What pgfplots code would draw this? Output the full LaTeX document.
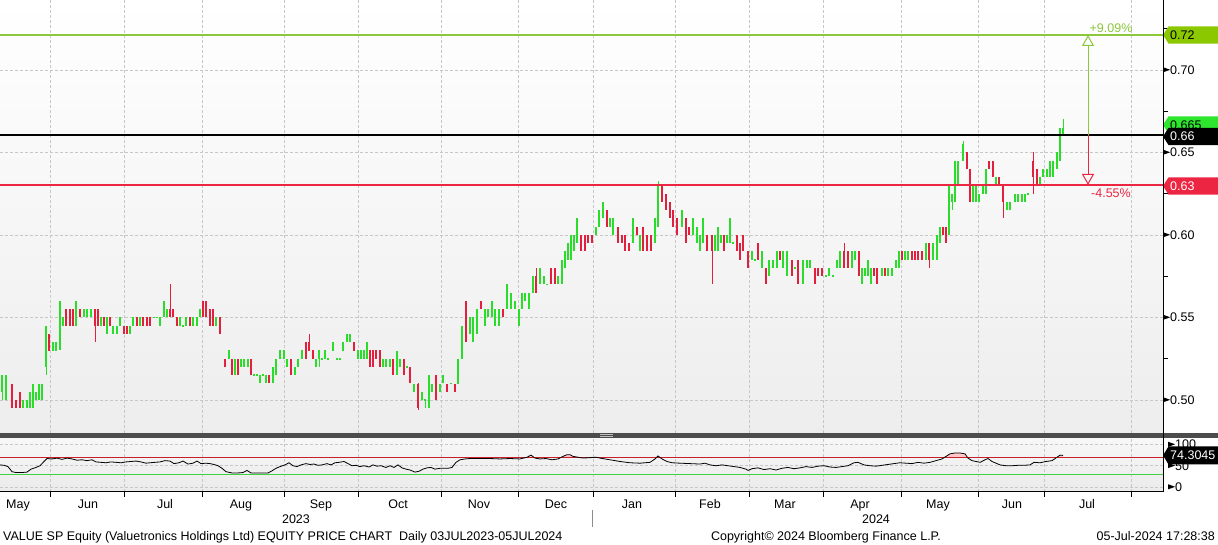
\documentclass[border=0pt]{standalone}
\usepackage{pgfplots}
\pgfplotsset{compat=1.18}
\usepackage{pgfplotstable}
\usepackage{fontspec}
\setmainfont{Liberation Sans}
\usetikzlibrary{arrows.meta}

\definecolor{upg}{HTML}{2BDD2B}
\definecolor{dnr}{HTML}{E2203E}
\definecolor{limeg}{HTML}{8CC83C}
\definecolor{limebox}{HTML}{8CC800}
\definecolor{redl}{HTML}{EC2642}
\definecolor{brightg}{HTML}{2EE62E}
\definecolor{rsig}{HTML}{44D044}
\definecolor{rsir}{HTML}{C81E28}
\newcommand{\lbl}{\fontsize{12.5}{14}\selectfont}

% x = horizontal position, o = open, c = close, h/l = extra wick (0 / 1 = none)
\pgfplotstableread{
x o c h l
2 0.505 0.515 0 0.50
6 0.50 0.515 0 1
12 0.51 0.495 0 1
16 0.50 0.495 0 1
20 0.505 0.495 0 1
23 0.495 0.50 0 1
27 0.495 0.50 0 1
30 0.495 0.505 0 1
33 0.495 0.51 0 1
36 0.50 0.505 0 1
39 0.50 0.51 0 1
42 0.50 0.51 0 1
46 0.52 0.545 0 0.515
49 0.54 0.53 0 1
53 0.53 0.535 0 1
56 0.53 0.535 0 1
60 0.53 0.56 0 1
63 0.545 0.55 0 1
66 0.555 0.545 0 1
70 0.555 0.545 0 1
73 0.555 0.545 0 1
76 0.545 0.56 0 1
80 0.555 0.55 0 1
84 0.55 0.555 0 1
87 0.55 0.555 0 1
91 0.55 0.555 0 1
95 0.555 0.545 0 0.535
98 0.555 0.545 0 1
101 0.545 0.55 0 1
104 0.55 0.545 0 1
107 0.54 0.55 0 1
110 0.55 0.545 0 1
113 0.54 0.545 0 1
117 0.54 0.545 0 1
120 0.545 0.55 0 1
124 0.545 0.54 0 1
127 0.545 0.54 0 1
130 0.54 0.545 0 1
133 0.545 0.55 0 1
137 0.55 0.545 0 1
140 0.545 0.55 0 1
143 0.55 0.545 0 1
147 0.55 0.545 0 1
150 0.55 0.545 0 1
154 0.55 0.55 0 1
157 0.55 0.55 0 1
160 0.545 0.55 0 1
164 0.55 0.56 0 1
167 0.55 0.555 0 1
170 0.555 0.55 0.57 1
173 0.555 0.55 0 1
177 0.55 0.545 0 1
180 0.545 0.55 0 1
183 0.545 0.545 0 1
186 0.545 0.55 0 1
190 0.55 0.545 0 1
193 0.545 0.55 0 1
197 0.545 0.55 0 1
200 0.55 0.555 0 1
203 0.56 0.55 0 1
206 0.56 0.55 0 1
210 0.555 0.545 0 1
213 0.555 0.545 0 1
216 0.545 0.55 0 1
220 0.55 0.54 0 1
225 0.525 0.52 0 1
229 0.525 0.53 0 1
232 0.525 0.515 0 1
235 0.515 0.525 0 1
238 0.525 0.515 0 1
241 0.52 0.525 0 1
244 0.52 0.525 0 1
248 0.52 0.525 0 1
251 0.525 0.515 0 1
254 0.515 0.515 0 1
257 0.515 0.515 0 1
260 0.51 0.515 0 1
263 0.515 0.515 0 1
266 0.51 0.515 0 1
269 0.515 0.51 0 1
273 0.51 0.52 0 1
276 0.515 0.525 0 1
280 0.525 0.53 0 1
284 0.525 0.53 0 1
287 0.52 0.525 0 1
291 0.525 0.515 0 1
295 0.515 0.52 0 1
298 0.52 0.525 0 1
302 0.525 0.53 0 1
306 0.535 0.525 0 1
309 0.535 0.53 0.54 1
313 0.53 0.525 0 1
316 0.52 0.525 0 1
319 0.525 0.53 0 0.52
322 0.525 0.525 0 1
325 0.525 0.53 0 1
328 0.525 0.525 0 1
333 0.53 0.535 0 1
337 0.525 0.525 0 1
340 0.525 0.525 0 1
343 0.53 0.535 0 1
347 0.535 0.54 0 1
350 0.535 0.54 0 1
354 0.535 0.53 0 1
358 0.525 0.53 0 1
361 0.525 0.53 0 1
364 0.525 0.53 0 1
367 0.525 0.535 0 1
370 0.53 0.52 0 1
373 0.53 0.52 0 1
376 0.53 0.525 0 1
380 0.53 0.52 0 1
383 0.52 0.525 0 1
386 0.52 0.525 0 1
390 0.52 0.525 0 1
393 0.525 0.515 0 1
397 0.515 0.53 0 1
400 0.52 0.525 0 1
404 0.525 0.515 0 1
407 0.52 0.52 0 1
410 0.52 0.51 0 1
414 0.505 0.51 0 1
418 0.51 0.495 0 0.494
422 0.50 0.505 0 1
425 0.50 0.50 0 0.495
429 0.495 0.515 0 1
432 0.505 0.51 0 1
436 0.515 0.50 0 1
440 0.505 0.51 0 1
443 0.51 0.515 0 1
447 0.51 0.505 0 1
451 0.51 0.51 0 1
455 0.51 0.505 0 1
458 0.51 0.525 0 1
462 0.525 0.545 0 1
466 0.56 0.535 0 1
470 0.54 0.55 0 1
473 0.535 0.55 0 1
477 0.54 0.555 0 1
481 0.56 0.555 0 1
485 0.545 0.555 0 1
488 0.55 0.555 0 1
492 0.55 0.56 0 1
495 0.545 0.555 0 1
499 0.545 0.555 0 1
503 0.555 0.55 0 1
507 0.555 0.57 0 1
511 0.555 0.565 0 1
515 0.555 0.56 0 1
519 0.545 0.555 0 1
522 0.555 0.565 0 1
525 0.56 0.565 0 1
529 0.555 0.565 0 1
533 0.565 0.575 0 1
536 0.575 0.565 0.58 1
540 0.57 0.58 0 1
544 0.57 0.575 0 1
547 0.57 0.57 0 1
551 0.58 0.57 0 1
555 0.58 0.57 0 1
558 0.57 0.575 0 1
562 0.57 0.585 0 1
565 0.58 0.59 0 1
568 0.585 0.595 0 1
571 0.585 0.60 0 1
574 0.59 0.60 0 1
577 0.595 0.61 0 1
581 0.60 0.59 0 1
585 0.60 0.59 0 1
588 0.60 0.595 0 1
592 0.60 0.595 0 1
596 0.60 0.605 0 1
599 0.605 0.615 0 1
603 0.61 0.62 0 1
607 0.615 0.605 0 1
610 0.605 0.61 0 1
613 0.60 0.61 0 1
618 0.605 0.595 0 1
622 0.60 0.595 0 1
625 0.60 0.59 0 1
629 0.595 0.59 0 1
633 0.595 0.61 0 1
637 0.605 0.60 0 1
640 0.59 0.60 0 1
643 0.605 0.59 0 1
647 0.60 0.59 0 1
651 0.60 0.59 0 1
655 0.595 0.61 0 1
658 0.605 0.63 0.633 1
662 0.63 0.62 0 1
666 0.625 0.615 0 1
670 0.62 0.61 0 1
673 0.615 0.605 0 1
677 0.61 0.60 0 1
682 0.605 0.615 0 1
686 0.61 0.595 0 1
689 0.605 0.60 0 1
693 0.60 0.61 0 1
697 0.595 0.605 0 1
700 0.59 0.60 0 1
703 0.595 0.61 0 1
707 0.60 0.59 0 1
712 0.60 0.59 0 0.57
715 0.59 0.60 0 1
718 0.59 0.605 0 1
721 0.595 0.60 0 1
724 0.60 0.59 0 1
727 0.595 0.60 0 1
730 0.595 0.61 0 1
733 0.595 0.595 0 1
737 0.60 0.59 0 1
740 0.595 0.585 0 1
743 0.60 0.59 0 1
748 0.59 0.58 0 1
752 0.585 0.59 0 1
755 0.585 0.585 0 1
758 0.595 0.585 0 1
762 0.58 0.59 0 1
766 0.58 0.57 0 1
769 0.575 0.585 0 1
773 0.58 0.585 0 1
777 0.58 0.59 0 1
780 0.59 0.585 0 1
783 0.58 0.59 0 1
787 0.575 0.59 0 1
792 0.585 0.575 0 1
795 0.58 0.58 0 1
798 0.585 0.57 0 1
803 0.57 0.585 0 1
807 0.58 0.585 0 1
810 0.58 0.585 0 1
815 0.58 0.57 0 1
818 0.58 0.575 0 1
822 0.58 0.575 0 1
826 0.575 0.575 0 1
829 0.575 0.58 0 1
833 0.575 0.575 0 1
837 0.58 0.585 0 1
840 0.58 0.59 0 1
844 0.59 0.58 0.595 1
848 0.59 0.58 0 1
852 0.58 0.59 0 1
855 0.585 0.59 0 1
859 0.59 0.575 0 1
862 0.57 0.58 0 1
865 0.575 0.58 0 1
868 0.575 0.585 0 1
871 0.57 0.58 0 1
874 0.58 0.575 0 1
877 0.58 0.57 0 1
882 0.575 0.58 0 1
885 0.58 0.575 0 1
888 0.575 0.58 0 1
892 0.575 0.58 0 1
896 0.58 0.585 0 1
899 0.58 0.59 0 1
902 0.59 0.585 0 1
905 0.585 0.59 0 1
908 0.585 0.59 0 1
912 0.59 0.585 0 1
915 0.59 0.585 0 1
918 0.59 0.585 0 1
922 0.59 0.585 0 1
926 0.585 0.595 0 1
929 0.595 0.585 0 0.58
933 0.585 0.595 0 1
937 0.585 0.60 0 1
940 0.595 0.605 0 1
943 0.605 0.60 0 1
946 0.605 0.595 0 1
949 0.60 0.63 0 1
952 0.62 0.625 0 0.615
955 0.62 0.645 0 1
958 0.63 0.645 0 1
963 0.645 0.655 0.657 1
967 0.65 0.64 0 1
970 0.64 0.62 0 1
973 0.62 0.63 0 1
976 0.62 0.63 0 1
979 0.62 0.625 0 1
983 0.625 0.63 0 1
986 0.625 0.64 0 1
989 0.645 0.64 0 1
993 0.645 0.635 0 1
996 0.63 0.635 0 1
999 0.635 0.63 0 1
1003 0.63 0.62 0 0.61
1007 0.615 0.62 0 1
1010 0.615 0.62 0 1
1015 0.62 0.625 0 1
1018 0.62 0.625 0 1
1022 0.62 0.625 0 1
1025 0.62 0.625 0 1
1028 0.625 0.625 0 1
1033 0.645 0.635 0.65 0.625
1037 0.64 0.63 0 1
1040 0.63 0.635 0 1
1043 0.635 0.64 0 1
1047 0.635 0.64 0 1
1050 0.635 0.645 0 1
1053 0.635 0.645 0 1
1057 0.64 0.65 0 1
1060 0.645 0.665 0 1
1063 0.66 0.665 0.67 1
}\candles

\pgfplotstableread{
x r
0 52
4 51
8 48
12 36
16 34
22 34
27 35
31 42
36 46
40 50
44 60
47 67
52 66
57 68
62 65
67 68
72 66
77 63
82 64
87 62
92 64
96 59
101 58
106 57
111 59
116 58
121 57
126 59
131 60
136 61
141 59
146 56
150 57
155 58
160 59
165 62
170 61
174 55
179 57
183 61
188 54
193 56
197 61
201 55
206 56
210 55
214 53
218 50
222 44
226 36
232 33
238 33
243 34
247 39
251 33
257 33
263 33
268 33
272 38
276 44
280 48
285 52
289 57
293 50
297 48
301 52
306 55
310 53
314 54
318 51
322 52
327 55
331 52
335 57
339 58
344 60
348 55
352 50
356 51
360 48
364 50
369 47
373 52
377 49
381 50
386 46
390 50
394 46
398 52
402 45
406 42
410 40
415 35
419 37
423 42
427 45
431 46
435 42
440 44
444 44
448 44
452 46
456 58
460 64
465 66
470 67
480 67
490 67
500 66
510 67
520 66
527 70
531 75
535 68
540 66
546 67
552 64
558 66
563 72
567 76
570 76
573 72
578 70
583 68
590 69
596 70
600 68
610 64
620 60
630 57
640 56
650 58
655 66
658 73
662 66
667 60
672 57
680 56
690 55
700 54
705 56
710 52
716 50
722 52
728 50
734 48
740 46
746 42
748 39
752 43
758 45
764 41
770 43
776 40
782 44
788 46
794 43
800 45
806 48
812 46
818 49
824 50
830 47
836 46
842 48
848 50
854 57
858 58
864 52
870 50
876 49
882 51
888 53
894 55
900 57
906 56
912 55
918 58
924 56
930 58
936 62
942 66
946 72
950 78
955 80
960 80
965 78
968 68
972 62
976 60
980 58
985 64
988 67
992 60
996 56
1000 52
1006 50
1012 50
1018 51
1024 51
1030 52
1034 58
1040 57
1046 60
1052 62
1057 70
1060 75
1063 74.3
}\rsi

% #1 = centre, #2 = top, #3 = bottom, #4 = fill, #5 = text colour, #6 = text
\newcommand{\pbox}[6]{%
  \fill[#4] (axis cs:1163,#1) -- (axis cs:1168.5,#2) -- (axis cs:1218,#2) -- (axis cs:1218,#3) -- (axis cs:1168.5,#3) -- cycle;
  \node[anchor=west, inner sep=0pt, text=#5, font=\lbl] at (axis cs:1170,#1) {#6};}

\pgfplotsset{
  candle/.style n args={2}{draw=none, mark=none, forget plot,
    error bars/y dir=both, error bars/y explicit, error bars/error mark=none,
    error bars/error bar style={draw=#1, line width=#2}},
}

\begin{document}
\begin{tikzpicture}[x=1pt,y=1pt]
\path[use as bounding box] (0,0) rectangle (1218,545);
\fill[white] (0,0) rectangle (1218,545);

% ---------------- main price panel ----------------
\begin{axis}[
  at={(0pt,112pt)}, anchor=south west,
  scale only axis, width=1163pt, height=433pt,
  xmin=0, xmax=1163, ymin=0.48, ymax=0.7424,
  axis line style={draw=none},
  axis background/.style={top color=white, bottom color=black!7},
  xtick={50,124,202,284,358,441,518,593,675,749,823,901,978,1044,1131},
  xticklabels={}, xtick style={draw=none},
  xmajorgrids, ymajorgrids,
  major grid style={densely dashed, black!22, line width=0.6pt},
  ytick={0.50,0.55,0.60,0.65,0.70},
  ytick pos=right, yticklabel pos=right, ytick style={draw=none},
  /pgf/number format/assume math mode=true,
  yticklabel style={anchor=west, inner sep=0pt, font=\lbl},
  yticklabel={\tikz[baseline=-0.36em]\fill (0pt,-2.5pt)--(7pt,0pt)--(0pt,2.5pt)--cycle;\pgfmathprintnumber[fixed,fixed zerofill,precision=2]{\tick}},
  clip=false,
]
% wicks
\addplot[restrict expr to domain={\thisrow{c}-\thisrow{o}}{0:1}, candle={upg}{0.8pt}]
  table[x=x,
    y expr={(max(\thisrow{o},\thisrow{c},\thisrow{h})+min(\thisrow{o},\thisrow{c},\thisrow{l}))/2},
    y error expr={(max(\thisrow{o},\thisrow{c},\thisrow{h})-min(\thisrow{o},\thisrow{c},\thisrow{l}))/2}] {\candles};
\addplot[restrict expr to domain={\thisrow{c}-\thisrow{o}}{-1:-0.0001}, candle={dnr}{0.8pt}]
  table[x=x,
    y expr={(max(\thisrow{o},\thisrow{c},\thisrow{h})+min(\thisrow{o},\thisrow{c},\thisrow{l}))/2},
    y error expr={(max(\thisrow{o},\thisrow{c},\thisrow{h})-min(\thisrow{o},\thisrow{c},\thisrow{l}))/2}] {\candles};
% bodies
\addplot[restrict expr to domain={\thisrow{c}-\thisrow{o}}{0:1}, candle={upg}{2.3pt}]
  table[x=x, y expr={(\thisrow{o}+\thisrow{c})/2},
    y error expr={max(abs(\thisrow{c}-\thisrow{o})/2,0.0005)}] {\candles};
\addplot[restrict expr to domain={\thisrow{c}-\thisrow{o}}{-1:-0.0001}, candle={dnr}{2.3pt}]
  table[x=x, y expr={(\thisrow{o}+\thisrow{c})/2},
    y error expr={max(abs(\thisrow{c}-\thisrow{o})/2,0.0005)}] {\candles};
% level lines
\addplot[limeg, line width=2pt, forget plot] coordinates {(0,0.7212) (1163,0.7212)};
\addplot[black, line width=2pt, forget plot] coordinates {(0,0.6606) (1163,0.6606)};
\addplot[redl, line width=2pt, forget plot] coordinates {(0,0.6303) (1163,0.6303)};
% arrows
\draw[limeg, line width=1pt, -{Triangle[open, length=11pt, width=12pt]}] (axis cs:1088,0.6606) -- (axis cs:1088,0.7212);
\draw[redl, line width=1pt, -{Triangle[open, length=11pt, width=12pt]}] (axis cs:1088,0.6606) -- (axis cs:1088,0.6303);
\node[text=limeg, font=\lbl] at (axis cs:1111,0.7254) {+9.09\%};
\node[text=redl, font=\lbl] at (axis cs:1111,0.6255) {-4.55\%};
% minor ticks
\draw[black, line width=0.8pt] (axis cs:1163,0.525) -- ++(5pt,0pt);
\draw[black, line width=0.8pt] (axis cs:1163,0.575) -- ++(5pt,0pt);
\draw[black, line width=0.8pt] (axis cs:1163,0.625) -- ++(5pt,0pt);
\draw[black, line width=0.8pt] (axis cs:1163,0.675) -- ++(5pt,0pt);
\draw[black, line width=0.8pt] (axis cs:1163,0.725) -- ++(5pt,0pt);
% price boxes
\pbox{0.7212}{0.7264}{0.7160}{limebox}{black}{0.72}
\pbox{0.6667}{0.6719}{0.6615}{brightg}{black}{0.665}
\pbox{0.6597}{0.6649}{0.6545}{black}{white}{0.66}
\pbox{0.6297}{0.6349}{0.6245}{redl}{white}{0.63}
\end{axis}

% ---------------- RSI panel ----------------
\begin{axis}[
  at={(0pt,53pt)}, anchor=south west,
  scale only axis, width=1163pt, height=54pt,
  xmin=0, xmax=1163, ymin=-11.8, ymax=115.3,
  axis line style={draw=none},
  axis background/.style={top color=black!3, bottom color=black!8},
  xtick={50,124,202,284,358,441,518,593,675,749,823,901,978,1044,1131},
  xticklabels={},
  xtick pos=bottom, tick align=outside, major tick length=5pt,
  xtick style={draw=black, line width=0.8pt},
  xmajorgrids, ymajorgrids,
  major grid style={densely dashed, black!22, line width=0.6pt},
  extra x ticks={18,88,165,241,321,398,479,556,632,710,785,860,938,1012,1087},
  extra x tick labels={May,Jun,Jul,Aug,Sep,Oct,Nov,Dec,Jan,Feb,Mar,Apr,May,Jun,Jul},
  extra x tick style={grid=none, xtick style={draw=none},
     xticklabel style={anchor=base, font=\lbl, yshift=-12pt}},
  ytick={0,50,100}, ytick pos=right, yticklabel pos=right, ytick style={draw=none},
  /pgf/number format/assume math mode=true,
  yticklabel style={anchor=west, inner sep=0pt, font=\lbl},
  yticklabel={\tikz[baseline=-0.36em]\fill (0pt,-2.5pt)--(7pt,0pt)--(0pt,2.5pt)--cycle;\pgfmathprintnumber{\tick}},
  clip=false,
]
\begin{scope}
\clip (axis cs:0,70) rectangle (axis cs:1163,115.3);
\addplot[fill=red!22, draw=none, forget plot] table[x=x,y=r]{\rsi} -- (axis cs:1063,70) -- (axis cs:0,70) -- cycle;
\end{scope}
\addplot[draw=rsir, line width=1pt, forget plot] coordinates {(0,70) (1163,70)};
\addplot[draw=rsig, line width=1.1pt, forget plot] coordinates {(0,30) (1163,30)};
\addplot[black, line width=0.8pt, forget plot] table[x=x,y=r]{\rsi};
\coordinate (rb) at (axis cs:1163,74.3);
\end{axis}

% RSI last-value box (drawn over the tick labels)
\fill[black] (rb) -- ([shift={(5.5pt,9pt)}]rb) -- ([shift={(55pt,9pt)}]rb) -- ([shift={(55pt,-9pt)}]rb) -- ([shift={(5.5pt,-9pt)}]rb) -- cycle;
\node[anchor=west, inner sep=0pt, text=white, font=\lbl] at ([shift={(7pt,0pt)}]rb) {74.3045};

% frame pieces
\fill[black!70] (0,107) rectangle (1218,112);
\draw[white!75!black, line width=0.6pt] (600,110.5) -- (613,110.5) (600,108.6) -- (613,108.6);
\draw[black, line width=1pt] (1163,53) -- (1163,545);
\draw[black, line width=1pt] (0,53) -- (1163,53);

% bottom texts
\draw[black!45, line width=1pt] (592,18) -- (592,35);
\node[anchor=base, font=\lbl] at (296,21.5) {2023};
\node[anchor=base, font=\lbl] at (876,21.5) {2024};
\node[anchor=base west, font=\lbl, inner sep=0pt] at (3,4.5) {VALUE SP Equity (Valuetronics Holdings Ltd) EQUITY PRICE CHART\ \ Daily 03JUL2023-05JUL2024};
\node[anchor=base, font=\lbl, inner sep=0pt] at (826,4.5) {Copyright© 2024 Bloomberg Finance L.P.};
\node[anchor=base east, font=\lbl, inner sep=0pt] at (1215,4.5) {05-Jul-2024 17:28:38};
\end{tikzpicture}
\end{document}
